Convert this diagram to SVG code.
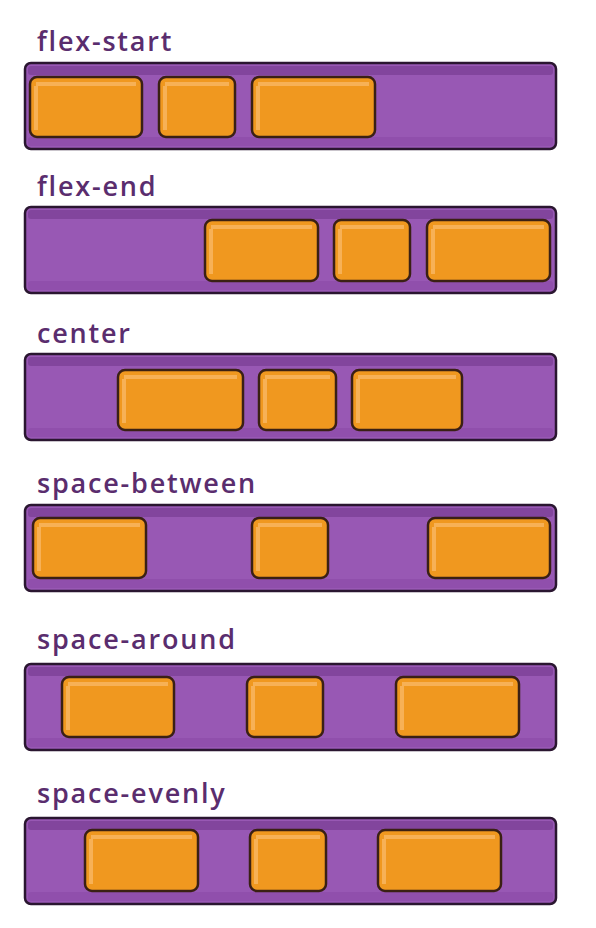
<svg xmlns="http://www.w3.org/2000/svg" width="596" height="928" viewBox="0 0 596 928">
<style>
.lbl{font-family:"Open Sans","Liberation Sans",sans-serif;font-size:27px;fill:#5a2d6e;font-weight:600;letter-spacing:1.8px}
.bar{fill:#9858b4;stroke:#2a1630;stroke-width:2.5}
.barTop{fill:#7b3f95;opacity:0.75}
.barShade{fill:#8a4aa6;opacity:0.6}
.box{fill:#f0981f;stroke:#3a2014;stroke-width:2.5}
.boxHi{fill:none;stroke:#f8b560;stroke-width:4;opacity:0.85}
</style>
<rect width="596" height="928" fill="#ffffff"/>
<defs>
<g id="barShape">
<rect class="bar" x="0" y="0" width="531" height="86" rx="6"/>
<rect class="barTop" x="3" y="3" width="525" height="9" rx="3"/>
<rect class="barShade" x="3" y="74" width="525" height="9" rx="3"/>
</g>
</defs>

<g id="row-flex-start">
<text class="lbl" x="37" y="51">flex-start</text>
<use href="#barShape" x="25" y="63"/>
<g id="fs-1"><rect class="box" x="30" y="77" width="112" height="60" rx="7"/><path class="boxHi" d="M36 86 V130 M36 84 H136"/></g>
<g id="fs-2"><rect class="box" x="159" y="77" width="76" height="60" rx="7"/><path class="boxHi" d="M165 86 V130 M165 84 H229"/></g>
<g id="fs-3"><rect class="box" x="252" y="77" width="123" height="60" rx="7"/><path class="boxHi" d="M258 86 V130 M258 84 H369"/></g>
</g>

<g id="row-flex-end">
<text class="lbl" x="37" y="196">flex-end</text>
<use href="#barShape" x="25" y="207"/>
<g id="fe-1"><rect class="box" x="205" y="220" width="113" height="61" rx="7"/><path class="boxHi" d="M211 229 V274 M211 227 H312"/></g>
<g id="fe-2"><rect class="box" x="334" y="220" width="76" height="61" rx="7"/><path class="boxHi" d="M340 229 V274 M340 227 H404"/></g>
<g id="fe-3"><rect class="box" x="427" y="220" width="123" height="61" rx="7"/><path class="boxHi" d="M433 229 V274 M433 227 H544"/></g>
</g>

<g id="row-center">
<text class="lbl" x="37" y="343">center</text>
<use href="#barShape" x="25" y="354"/>
<g id="c-1"><rect class="box" x="118" y="370" width="125" height="60" rx="7"/><path class="boxHi" d="M124 379 V423 M124 377 H237"/></g>
<g id="c-2"><rect class="box" x="259" y="370" width="77" height="60" rx="7"/><path class="boxHi" d="M265 379 V423 M265 377 H330"/></g>
<g id="c-3"><rect class="box" x="352" y="370" width="110" height="60" rx="7"/><path class="boxHi" d="M358 379 V423 M358 377 H456"/></g>
</g>

<g id="row-space-between">
<text class="lbl" x="37" y="493">space-between</text>
<use href="#barShape" x="25" y="505"/>
<g id="sb-1"><rect class="box" x="33" y="518" width="113" height="60" rx="7"/><path class="boxHi" d="M39 527 V571 M39 525 H140"/></g>
<g id="sb-2"><rect class="box" x="252" y="518" width="76" height="60" rx="7"/><path class="boxHi" d="M258 527 V571 M258 525 H322"/></g>
<g id="sb-3"><rect class="box" x="428" y="518" width="122" height="60" rx="7"/><path class="boxHi" d="M434 527 V571 M434 525 H544"/></g>
</g>

<g id="row-space-around">
<text class="lbl" x="37" y="649">space-around</text>
<use href="#barShape" x="25" y="664"/>
<g id="sa-1"><rect class="box" x="62" y="677" width="112" height="60" rx="7"/><path class="boxHi" d="M68 686 V730 M68 684 H168"/></g>
<g id="sa-2"><rect class="box" x="247" y="677" width="76" height="60" rx="7"/><path class="boxHi" d="M253 686 V730 M253 684 H317"/></g>
<g id="sa-3"><rect class="box" x="396" y="677" width="123" height="60" rx="7"/><path class="boxHi" d="M402 686 V730 M402 684 H513"/></g>
</g>

<g id="row-space-evenly">
<text class="lbl" x="37" y="803">space-evenly</text>
<use href="#barShape" x="25" y="818"/>
<g id="se-1"><rect class="box" x="85" y="830" width="113" height="61" rx="7"/><path class="boxHi" d="M91 839 V884 M91 837 H192"/></g>
<g id="se-2"><rect class="box" x="250" y="830" width="76" height="61" rx="7"/><path class="boxHi" d="M256 839 V884 M256 837 H320"/></g>
<g id="se-3"><rect class="box" x="378" y="830" width="123" height="61" rx="7"/><path class="boxHi" d="M384 839 V884 M384 837 H495"/></g>
</g>

<g id="connectors"/>
</svg>
